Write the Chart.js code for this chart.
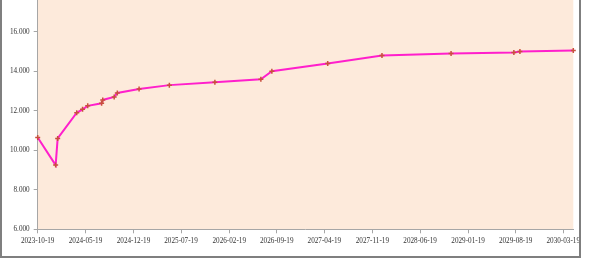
<!DOCTYPE html>
<html>
<head>
<meta charset="utf-8">
<script src="https://cdn.jsdelivr.net/npm/chart.js@4/dist/chart.umd.min.js"></script>
<style>
  html, body { margin: 0; padding: 0; background: #fff; overflow: hidden; }
  #wrap { position: relative; width: 600px; height: 280px; overflow: hidden; }
  #box { position: absolute; left: 0; top: -20px; width: 600px; height: 300px; }
  #frame { position: absolute; left: 0; top: -10px; width: 581px; height: 268px;
           box-sizing: border-box; border: 2px solid #7f7f7f; pointer-events: none; }
</style>
</head>
<body>
<div id="wrap">
  <div id="box"><canvas id="grafico" width="600" height="300"></canvas></div>
  <div id="frame"></div>
</div>
<script>
// datas e valores
const datas = ['2023-10-19', '2024-01-07', '2024-01-16', '2024-04-10', '2024-05-06', '2024-05-29',
  '2024-07-30', '2024-08-04', '2024-09-24', '2024-10-08', '2025-01-13', '2025-05-28',
  '2025-12-17', '2026-07-10', '2026-08-28', '2027-05-04', '2028-01-01', '2028-11-04',
  '2029-08-11', '2029-09-07', '2030-05-03'];
const valores = [10650, 9250, 10600, 11900, 12075, 12250,
  12380, 12550, 12700, 12900, 13100, 13300,
  13450, 13600, 14000, 14400, 14800, 14900,
  14950, 15000, 15050];
const ticksX = ['2023-10-19', '2024-05-19', '2024-12-19', '2025-07-19', '2026-02-19', '2026-09-19',
  '2027-04-19', '2027-11-19', '2028-06-19', '2029-01-19', '2029-08-19', '2030-03-19'];

const dia = d => Date.parse(d) / 86400000;
const nomeDia = {};
ticksX.forEach(d => { nomeDia[dia(d)] = d; });

const fundo = {
  id: 'fundo',
  beforeDraw(chart) {
    const a = chart.chartArea, c = chart.ctx;
    c.save();
    c.fillStyle = '#fdeadb';
    c.fillRect(a.left, a.top, a.right - a.left, a.bottom - a.top);
    c.restore();
  }
};

const fonte = { family: 'Liberation Serif', size: 7.2 };

const ctx = document.getElementById('grafico').getContext('2d');
new Chart(ctx, {
  type: 'line',
  data: {
    datasets: [{
      data: datas.map((d, i) => ({ x: dia(d), y: valores[i] })),
      borderColor: '#ff1fcc',
      borderWidth: 2,
      tension: 0,
      pointStyle: 'cross',
      pointRadius: 2.5,
      pointBorderWidth: 1.5,
      pointBorderColor: '#c8503c',
      pointBackgroundColor: '#c8503c',
      clip: false
    }]
  },
  plugins: [fundo],
  options: {
    responsive: false,
    animation: false,
    layout: { padding: { top: 12.3, left: 0, right: 26.7, bottom: 0 } },
    plugins: { legend: { display: false }, tooltip: { enabled: false } },
    scales: {
      x: {
        type: 'linear',
        min: dia(datas[0]),
        max: dia(datas[datas.length - 1]),
        afterBuildTicks: s => { s.ticks = ticksX.map(d => ({ value: dia(d) })); },
        afterFit: s => { s.height = 50.7; },
        grid: { drawOnChartArea: false, drawTicks: true, tickLength: 4, color: '#a6a6a6' },
        border: { color: '#a6a6a6', width: 1 },
        ticks: {
          autoSkip: false, maxRotation: 0, padding: 3,
          color: '#333', font: fonte,
          callback: v => nomeDia[v] || ''
        }
      },
      y: {
        min: 6000,
        max: 18000,
        afterFit: s => { s.width = 37.7; },
        grid: { drawOnChartArea: false, drawTicks: true, tickLength: 4, color: '#a6a6a6' },
        border: { color: '#a6a6a6', width: 1 },
        ticks: {
          stepSize: 2000, padding: 4,
          color: '#333', font: fonte,
          callback: v => (v / 1000).toFixed(3)
        }
      }
    }
  }
});
</script>
</body>
</html>
